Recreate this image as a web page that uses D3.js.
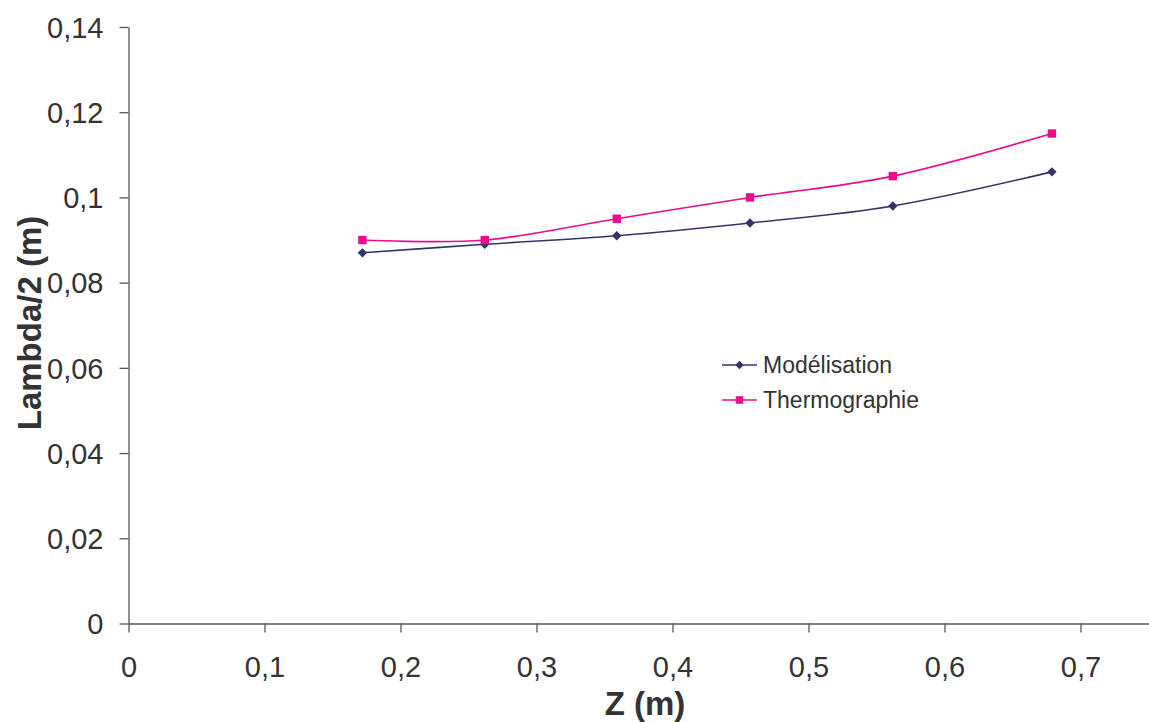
<!DOCTYPE html>
<html><head><meta charset="utf-8">
<script src="https://cdn.jsdelivr.net/npm/d3@7"></script>
<style>body{margin:0;background:#fff}svg{display:block}text{font-family:"Liberation Sans",Arial,sans-serif}</style>
</head><body><svg id="c" width="1149" height="722"></svg>
<script>
const zValues = [0.172, 0.262, 0.359, 0.457, 0.562, 0.679];
const modelisation = [0.087, 0.089, 0.091, 0.094, 0.098, 0.106];
const thermographie = [0.090, 0.090, 0.095, 0.100, 0.105, 0.115];
const seriesNames = ["Modélisation", "Thermographie"];
const xTicks = [0, 0.1, 0.2, 0.3, 0.4, 0.5, 0.6, 0.7];
const yTicks = [0, 0.02, 0.04, 0.06, 0.08, 0.1, 0.12, 0.14];

const svg = d3.select("#c");
const x = d3.scaleLinear().domain([0, 0.75]).range([128.5, 1148.5]);
const y = d3.scaleLinear().domain([0, 0.14]).range([623.5, 27]);
const fmt = v => String(+v.toFixed(2)).replace(".", ",");
const axisCol = "#555";

const gx = svg.append("g").attr("transform", "translate(0,623.5)")
  .call(d3.axisBottom(x).tickValues(xTicks).tickFormat(fmt).tickSize(9).tickPadding(24).tickSizeOuter(0));
const gy = svg.append("g").attr("transform", "translate(128.5,0)")
  .call(d3.axisLeft(y).tickValues(yTicks).tickFormat(fmt).tickSize(9).tickPadding(16).tickSizeOuter(0));
[gx, gy].forEach(g => {
  g.selectAll("path.domain").attr("stroke", axisCol).attr("stroke-width", 1.3);
  g.selectAll(".tick line").attr("stroke", axisCol).attr("stroke-width", 1.3);
  g.selectAll(".tick text").attr("fill", "#333").attr("font-size", 29).attr("font-family", "Liberation Sans, Arial, sans-serif");
});
gy.selectAll(".tick text").attr("dy", "0.35em");

svg.append("text").attr("x", 645).attr("y", 715).attr("text-anchor", "middle")
  .attr("font-size", 33).attr("font-weight", "bold").attr("fill", "#333").text("Z (m)");
svg.append("text").attr("transform", "translate(41,323) rotate(-90)").attr("text-anchor", "middle")
  .attr("font-size", 33).attr("font-weight", "bold").attr("fill", "#333").text("Lambda/2 (m)");

const series = [
  {name: seriesNames[0], vals: modelisation, color: "#33336a", sym: d3.symbolDiamond2, area: 56},
  {name: seriesNames[1], vals: thermographie, color: "#ee0a8c", sym: d3.symbolSquare2, area: 90}
];
const line = d3.line().x(d => x(d[0])).y(d => y(d[1])).curve(d3.curveCatmullRom.alpha(0));
series.forEach(s => {
  const pts = zValues.map((z, i) => [z, s.vals[i]]);
  svg.append("path").datum(pts).attr("d", line).attr("fill", "none")
    .attr("stroke", s.color).attr("stroke-width", 1.6);
  const sy = d3.symbol().type(s.sym).size(s.area);
  svg.append("g").selectAll("path").data(pts).join("path")
    .attr("transform", d => `translate(${x(d[0])},${y(d[1])})`)
    .attr("d", sy).attr("fill", s.color).attr("stroke", "none");
});

const leg = svg.append("g");
series.forEach((s, i) => {
  const ly = 365 + i * 35;
  leg.append("line").attr("x1", 722).attr("x2", 757).attr("y1", ly).attr("y2", ly)
    .attr("stroke", s.color).attr("stroke-width", 1.6);
  const sy = d3.symbol().type(s.sym).size(s.area * 0.8);
  leg.append("path").attr("transform", `translate(739.5,${ly})`).attr("d", sy).attr("fill", s.color);
  leg.append("text").attr("x", 763).attr("y", ly).attr("dy", "0.35em").attr("font-size", 23)
    .attr("fill", "#333").text(s.name);
});
</script></body></html>
